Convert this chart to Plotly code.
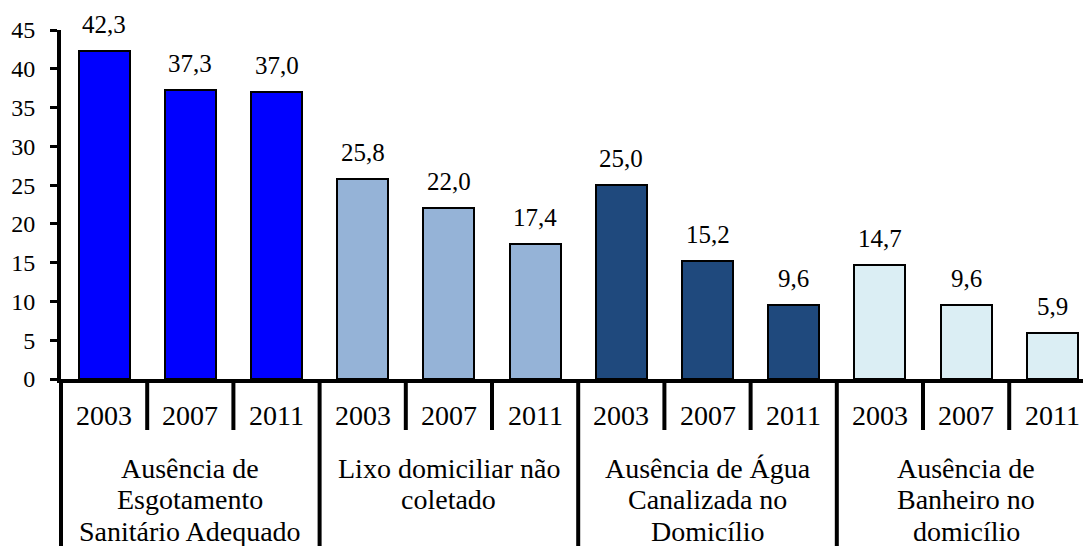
import plotly.graph_objects as go

# ---- data ----
years = ["2003", "2007", "2011"]
group_lines = [
    ["Ausência de", "Esgotamento", "Sanitário Adequado"],
    ["Lixo domiciliar não", "coletado"],
    ["Ausência de Água", "Canalizada no", "Domicílio"],
    ["Ausência de", "Banheiro no", "domicílio"],
]
esgotamento = [42.3, 37.3, 37.0]
lixo = [25.8, 22.0, 17.4]
agua = [25.0, 15.2, 9.6]
banheiro = [14.7, 9.6, 5.9]
group_colors = ["#0000FF", "#95B3D7", "#1F497D", "#DBEEF4"]
y_ticks = [0, 5, 10, 15, 20, 25, 30, 35, 40, 45]

series = [esgotamento, lixo, agua, banheiro]

FONT = "'Liberation Serif', 'Times New Roman', Times, serif"
W, H = 1083, 546
ML, MR, MT, MB = 61, 0, 30, 167
PLOT_H = H - MT - MB
XMIN, XMAX = -0.5, 11.356

xs, ys, cols, texts = [], [], [], []
for g, vals in enumerate(series):
    for j, v in enumerate(vals):
        xs.append(g * len(years) + j)
        ys.append(v)
        cols.append(group_colors[g])
        texts.append(f"{v:.1f}".replace(".", ","))

fig = go.Figure()
fig.add_trace(go.Bar(
    x=xs, y=ys, width=0.59,
    marker=dict(color=cols, line=dict(color="black", width=2)),
    hoverinfo="skip", showlegend=False,
))

def xpaper(v):
    return (v - XMIN) / (XMAX - XMIN)

def ypx(px):
    return -px / PLOT_H

annotations = []
# data labels
for x, y, t in zip(xs, ys, texts):
    annotations.append(dict(x=x, y=y, xref="x", yref="y", text=t, showarrow=False,
                            yanchor="bottom", yshift=11,
                            font=dict(family=FONT, size=25, color="black")))
# year labels
for x in xs:
    annotations.append(dict(x=x, y=0, xref="x", yref="paper", text=years[x % 3],
                            showarrow=False, yanchor="middle", yshift=-36,
                            font=dict(family=FONT, size=28, color="black")))
# group labels
for g, lines in enumerate(group_lines):
    cx = g * 3 + 1
    for k, line in enumerate(lines):
        annotations.append(dict(x=cx, y=0, xref="x", yref="paper", text=line,
                                showarrow=False, yanchor="middle",
                                yshift=-(89 + 31.7 * k),
                                font=dict(family=FONT, size=28, color="black")))

shapes = []
n = len(xs)
for b in range(n):
    bx = b - 0.5
    if bx < XMIN - 1e-9 or bx > XMAX:
        continue
    full = (b % 3 == 0)
    shapes.append(dict(type="line", xref="paper", yref="paper",
                       x0=xpaper(bx), x1=xpaper(bx), y0=0,
                       y1=ypx(167 if full else 51),
                       line=dict(color="black", width=4)))

fig.update_layout(
    width=W, height=H,
    margin=dict(l=ML, r=MR, t=MT, b=MB, pad=0),
    paper_bgcolor="white", plot_bgcolor="white",
    bargap=0,
    font=dict(family=FONT, color="black"),
    xaxis=dict(range=[XMIN, XMAX], showticklabels=False, ticks="", showgrid=False,
               zeroline=False, showline=True, linecolor="black", linewidth=4),
    yaxis=dict(range=[0, 45], tickvals=y_ticks, ticks="outside", ticklen=7,
               tickwidth=3, tickcolor="black", showgrid=False, zeroline=False,
               showline=True, linecolor="black", linewidth=4,
               ticklabelstandoff=10,
               tickfont=dict(family=FONT, size=24, color="black")),
    annotations=annotations,
    shapes=shapes,
)

fig.write_html("out.html", config={"displayModeBar": False},
               post_script="document.body.style.margin='0';document.body.style.overflow='hidden';")
